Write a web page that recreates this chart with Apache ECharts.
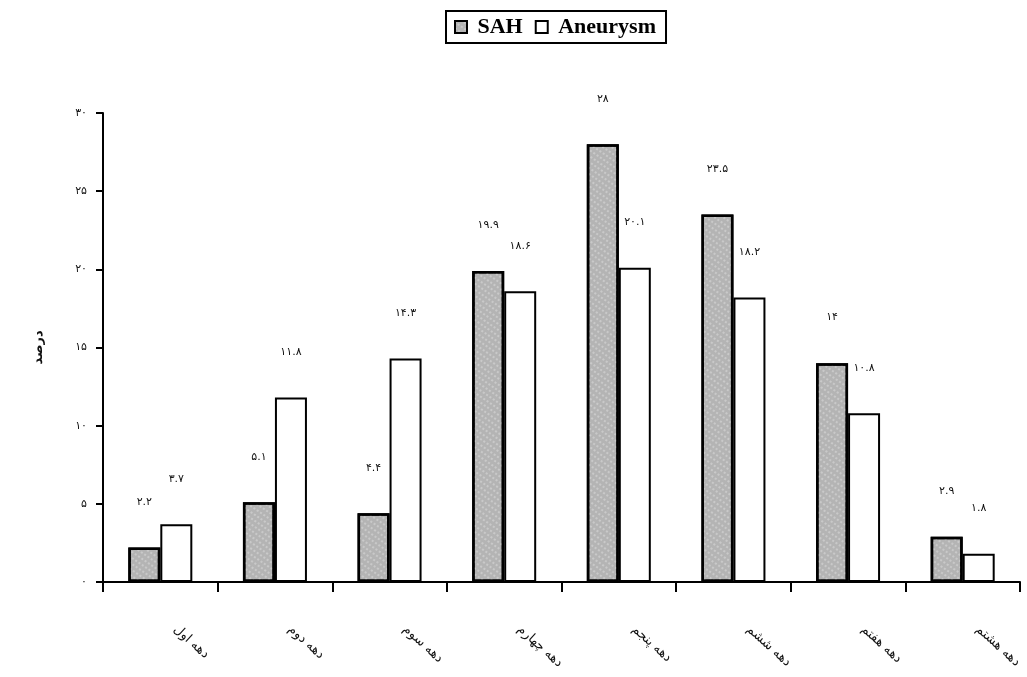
<!DOCTYPE html>
<html>
<head>
<meta charset="utf-8">
<script src="https://cdn.jsdelivr.net/npm/echarts@6/dist/echarts.min.js"></script>
<style>
html,body{margin:0;padding:0;background:#fff;}
#chart{width:1027px;height:677px;}
</style>
</head>
<body>
<div id="chart"></div>
<script>
// ---- data ----
var categories = ['دهه اول','دهه دوم','دهه سوم','دهه چهارم','دهه پنجم','دهه ششم','دهه هفتم','دهه هشتم'];
var sahValues = [2.2, 5.1, 4.4, 19.9, 28, 23.5, 14, 2.9];
var aneurysmValues = [3.7, 11.8, 14.3, 18.6, 20.1, 18.2, 10.8, 1.8];
var seriesNames = ['SAH', 'Aneurysm'];
var yTicks = [0, 5, 10, 15, 20, 25, 30];
var yTitle = 'درصد';

var faDigits = '۰۱۲۳۴۵۶۷۸۹';
function toFa(v) {
  return String(v).replace(/[0-9]/g, function (d) { return faDigits[+d]; });
}

var chart = echarts.init(document.getElementById('chart'), null, {renderer: 'canvas'});

var labelStyle = {
  show: true,
  position: 'top',
  distance: 40,
  fontFamily: 'DejaVu Sans',
  fontSize: 11,
  color: '#111',
  formatter: function (p) { return toFa(p.value); }
};

chart.setOption({
  animation: false,
  backgroundColor: '#fff',
  legend: {
    data: seriesNames,
    icon: 'rect',
    left: 446,
    top: 11,
    itemWidth: 12,
    itemHeight: 12,
    itemGap: 12,
    padding: [5, 10, 5, 8],
    borderColor: '#000',
    borderWidth: 2,
    formatter: function (n) { return ' ' + n; },
    textStyle: {fontFamily: 'Liberation Serif', fontWeight: 'bold', fontSize: 22, color: '#000'}
  },
  grid: {left: 103, right: 7, top: 113, bottom: 95, containLabel: false},
  xAxis: {
    type: 'category',
    data: categories,
    axisLine: {lineStyle: {color: '#000', width: 2}},
    axisTick: {show: true, length: 10, lineStyle: {color: '#000', width: 2}},
    axisLabel: {
      rotate: -42,
      margin: 32,
      padding: [0, 0, 0, 20],
      fontFamily: 'DejaVu Sans',
      fontSize: 13,
      color: '#111',
      interval: 0
    }
  },
  yAxis: {
    type: 'value',
    min: 0,
    max: 30,
    interval: 5,
    name: yTitle,
    nameLocation: 'middle',
    nameGap: 58,
    nameTextStyle: {fontFamily: 'DejaVu Sans', fontSize: 13, fontWeight: 'bold', color: '#111'},
    splitLine: {show: false},
    axisLine: {show: true, lineStyle: {color: '#000', width: 2}},
    axisTick: {show: true, length: 7, lineStyle: {color: '#000', width: 2}},
    axisLabel: {
      margin: 16,
      fontFamily: 'DejaVu Sans',
      fontSize: 11,
      color: '#111',
      formatter: function (v) { return yTicks.indexOf(v) >= 0 ? toFa(v) : ''; }
    }
  },
  series: [
    {
      name: seriesNames[0],
      type: 'bar',
      data: sahValues,
      barWidth: 32,
      barGap: '0%',
      itemStyle: {
        color: '#b4b4b4',
        borderColor: '#000',
        borderWidth: 2.5,
        decal: {
          symbol: 'rect',
          symbolSize: 0.7,
          dashArrayX: [2, 2],
          dashArrayY: [2, 3],
          rotation: 0.6,
          color: 'rgba(255,255,255,0.55)'
        }
      },
      label: labelStyle
    },
    {
      name: seriesNames[1],
      type: 'bar',
      data: aneurysmValues,
      barWidth: 32,
      barGap: '0%',
      itemStyle: {color: '#fff', borderColor: '#000', borderWidth: 2},
      label: labelStyle
    }
  ]
});
</script>
</body>
</html>
